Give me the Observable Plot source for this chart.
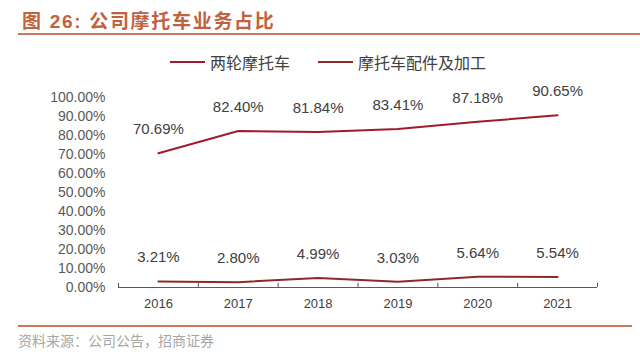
<!DOCTYPE html>
<html>
<head>
<meta charset="utf-8">
<script src="https://cdn.jsdelivr.net/npm/d3@7"></script>
<script src="https://cdn.jsdelivr.net/npm/@observablehq/plot@0.6"></script>
<style>
  html, body { margin: 0; padding: 0; background: #fff; }
  #wrap { position: relative; width: 640px; height: 358px; overflow: hidden; font-family: "Liberation Sans", "Noto Sans CJK SC", sans-serif; }
  #title { position: absolute; left: 22px; top: 6px; font-size: 19px; font-weight: bold; color: #C0623E; font-family: "Liberation Sans", "Noto Sans CJK SC", sans-serif; letter-spacing: 1.7px; }
  #titleLine { position: absolute; left: 18px; top: 33px; width: 622px; height: 2px; background: #C87A5A; }
  #legend { position: absolute; top: 51px; left: 0; width: 640px; height: 22px; font-size: 16px; color: #404040; font-family: "Noto Sans CJK SC", sans-serif; }
  .item { position: absolute; top: 0; display: flex; align-items: center; height: 22px; }
  .swatch { width: 35px; height: 2px; margin-right: 5px; }
  #chart { position: absolute; left: 0; top: 80px; }
  #bottomLine { position: absolute; left: 18px; top: 325px; width: 614px; height: 2px; background: #C87A5A; }
  #caption { position: absolute; left: 18px; top: 330px; font-size: 14px; color: #A6A6A6; font-family: "Noto Sans CJK SC", sans-serif; }
</style>
</head>
<body>
<div id="wrap">
  <div id="title">图 26: 公司摩托车业务占比</div>
  <div id="titleLine"></div>
  <div id="legend"></div>
  <div id="chart"></div>
  <div id="bottomLine"></div>
  <div id="caption">资料来源：公司公告，招商证券</div>
</div>
<script>
const years = [2016, 2017, 2018, 2019, 2020, 2021];
const seriesNames = ["两轮摩托车", "摩托车配件及加工"];
const motorcycle = [70.69, 82.40, 81.84, 83.41, 87.18, 90.65];
const parts = [3.21, 2.80, 4.99, 3.03, 5.64, 5.54];
const yTicks = [0, 10, 20, 30, 40, 50, 60, 70, 80, 90, 100];
const colors = ["#A01C2A", "#8C2A2A"];

const rows = [];
years.forEach((y, i) => {
  rows.push({year: y, value: motorcycle[i], series: seriesNames[0]});
  rows.push({year: y, value: parts[i], series: seriesNames[1]});
});
const bounds = [years[0] - 0.5, ...years.map(y => y + 0.5)];

// legend
const legend = document.getElementById("legend");
const legendX = [170, 318];
seriesNames.forEach((name, i) => {
  const d = document.createElement("div");
  d.className = "item";
  d.style.left = legendX[i] + "px";
  d.innerHTML = `<span class="swatch" style="background:${colors[i]}"></span><span>${name}</span>`;
  legend.appendChild(d);
});

const chart = Plot.plot({
  width: 640,
  height: 240,
  marginTop: 17,
  marginBottom: 33,
  marginLeft: 118,
  marginRight: 43,
  style: {fontFamily: "Liberation Sans, Arial, sans-serif", fontSize: "13px", color: "#595959", background: "transparent"},
  x: {domain: [bounds[0], bounds[bounds.length - 1]]},
  y: {domain: [0, 100]},
  color: {domain: seriesNames, range: colors},
  marks: [
    Plot.axisY({ticks: yTicks, tickFormat: d => d.toFixed(2) + "%", tickSize: 0, tickPadding: 13, fontSize: 14, fill: "#595959", label: null}),
    Plot.axisX({ticks: years, tickFormat: d => String(d), tickSize: 0, tickPadding: 11, fontSize: 13, fill: "#404040", label: null}),
    Plot.ruleY([0], {stroke: "#595959", strokeWidth: 1}),
    Plot.ruleX(bounds, {x: d => d, y1: 0, y2: 2.2, stroke: "#595959", strokeWidth: 1}),
    Plot.line(rows, {x: "year", y: "value", z: "series", stroke: "series", strokeWidth: 2}),
    Plot.text(rows, {x: "year", y: "value", text: d => d.value.toFixed(2) + "%", dy: -24, fontSize: 15, fill: "#404040"})
  ]
});
document.getElementById("chart").appendChild(chart);
</script>
</body>
</html>
